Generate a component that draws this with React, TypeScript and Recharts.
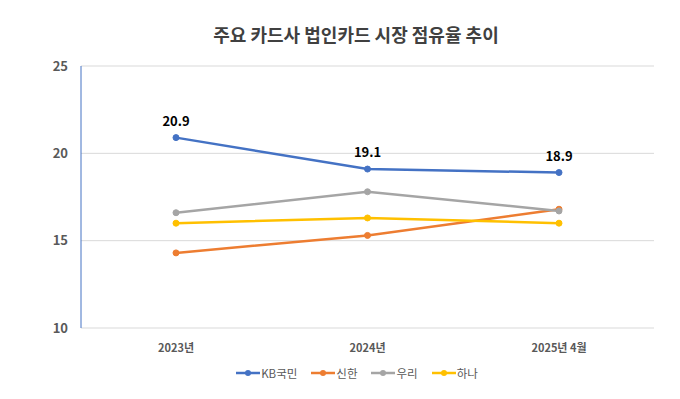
import React from 'react';
import { LineChart, Line, XAxis, YAxis, CartesianGrid, Legend, LabelList } from 'recharts';

const periods = ['2023년', '2024년', '2025년 4월'];
const kb = [20.9, 19.1, 18.9];
const shinhan = [14.3, 15.3, 16.8];
const woori = [16.6, 17.8, 16.7];
const hana = [16.0, 16.3, 16.0];
const yTicks = [10, 15, 20, 25];

const SERIES = [
    { key: 'KB국민', color: '#4472C4' },
    { key: '신한', color: '#ED7D31' },
    { key: '우리', color: '#A5A5A5' },
    { key: '하나', color: '#FFC000' },
];

const data = periods.map((p, i) => ({
    period: p,
    KB국민: kb[i],
    신한: shinhan[i],
    우리: woori[i],
    하나: hana[i],
}));

const FONT = '"Noto Sans CJK KR", "Noto Sans", sans-serif';

function LegendContent() {
    return (
        <div
            style={{
                position: 'relative',
                top: 7,
                display: 'flex',
                justifyContent: 'center',
                gap: 14,
                marginLeft: 60,
                fontFamily: FONT,
                fontSize: 11.5,
                color: '#595959',
            }}
        >
            {SERIES.map((s) => (
                <div key={s.key} style={{ display: 'flex', alignItems: 'center' }}>
                    <svg width={24} height={10} style={{ marginRight: 1 }}>
                        <line x1={0} y1={5} x2={24} y2={5} stroke={s.color} strokeWidth={2.5} />
                        <circle cx={12} cy={5} r={3} fill={s.color} />
                    </svg>
                    <span>{s.key}</span>
                </div>
            ))}
        </div>
    );
}

export default function App() {
    return (
        <div style={{ position: 'absolute', left: 0, top: 0, width: 680, height: 399, background: '#fff', fontFamily: FONT }}>
            <div
                style={{
                    position: 'absolute',
                    top: 21,
                    left: 16,
                    width: 680,
                    textAlign: 'center',
                    fontSize: 18,
                    fontWeight: 700,
                    color: '#404040',
                }}
            >
                주요 카드사 법인카드 시장 점유율 추이
            </div>
            <LineChart
                width={680}
                height={399}
                data={data}
                margin={{ top: 66, right: 26, left: 0, bottom: 25 }}
            >
                <CartesianGrid vertical={false} stroke="#D9D9D9" />
                <XAxis
                    dataKey="period"
                    axisLine={false}
                    tickLine={false}
                    height={30}
                    tickMargin={10}
                    padding={{ left: 95, right: 95 }}
                    tick={{ fontSize: 11, fill: '#595959', fontWeight: 700, fontFamily: FONT }}
                />
                <YAxis
                    domain={[10, 25]}
                    ticks={yTicks}
                    width={81}
                    tickLine={false}
                    axisLine={{ stroke: '#4472C4' }}
                    tickMargin={7}
                    tick={{ fontSize: 13, fill: '#595959', fontWeight: 700, fontFamily: FONT }}
                />
                <Legend verticalAlign="bottom" content={<LegendContent />} />
                {SERIES.map((s) => (
                    <Line
                        key={s.key}
                        type="linear"
                        dataKey={s.key}
                        stroke={s.color}
                        strokeWidth={2.5}
                        dot={{ r: 3, fill: s.color, stroke: s.color, strokeWidth: 1 }}
                        isAnimationActive={false}
                    >
                        {s.key === 'KB국민' && (
                            <LabelList
                                dataKey={s.key}
                                position="top"
                                offset={12}
                                style={{ fontSize: 13, fontWeight: 700, fill: '#000', fontFamily: FONT }}
                            />
                        )}
                    </Line>
                ))}
            </LineChart>
        </div>
    );
}
